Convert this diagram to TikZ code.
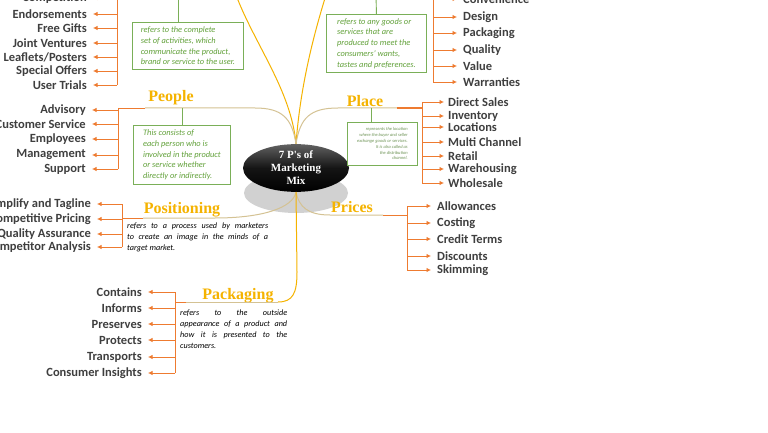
\documentclass[tikz,border=0pt]{standalone}
\usepackage{fontspec}
\setmainfont{Carlito}
\newfontfamily\headfont{Liberation Serif}
\usetikzlibrary{arrows.meta,shapes.geometric}

\definecolor{mixGold}{HTML}{F5B300}
\definecolor{mixOrange}{HTML}{EE7B30}
\definecolor{mixGreen}{HTML}{62A13A}
\definecolor{mixTan}{HTML}{D4C293}
\definecolor{mixGrey}{HTML}{3F3F3F}

\begin{document}
\begin{tikzpicture}
[x=1pt,y=-1pt,
  itemDecorate/.style={inner sep=0pt,text=mixGrey,font=\bfseries\fontsize{12.5}{14}\selectfont},
  headDecorate/.style={inner sep=0pt,text=mixGold,font=\headfont\bfseries\fontsize{16}{18}\selectfont},
  boxDecorate/.style={draw=mixGreen!85,line width=0.9pt,fill=white,inner sep=0pt,anchor=north west,
    text=mixGreen,align=left,font=\itshape\fontsize{8.4}{10.7}\selectfont},
  noteDecorate/.style={inner sep=0pt,anchor=north west,align=justify,font=\itshape\fontsize{8.2}{10.9}\selectfont},
  centerDecorate/.style={ellipse,top color=black!62,bottom color=black,middle color=black!92,
    minimum width=106pt,minimum height=46pt,inner sep=0pt,text=white,align=center,
    font=\headfont\bfseries\fontsize{11}{13}\selectfont},
  arrowDecorate/.style={mixOrange,line width=0.8pt,shorten >=6pt,-{Latex[length=4.5pt,width=4.5pt]}},
  bracketDecorate/.style={mixOrange,line width=0.8pt},
  goldDecorate/.style={mixGold,line width=1pt},
  tanDecorate/.style={mixTan,line width=1pt},
  stemDecorate/.style={mixGreen!85,line width=0.9pt}]
\useasboundingbox (0,0) rectangle (768,433);
\fill[white] (0,0) rectangle (768,433);
\clip (0,0) rectangle (768,433);

%% centre
\fill[black!18] (296,193) ellipse (52 and 20);
\node[centerDecorate] (mix) at (296,168) {7 P's of\\Marketing\\Mix};

%% promotion (top left)
\coordinate (promoTop) at (117,-10);
\foreach \i/\y/\txt in {1/-2/Competition, 2/14/Endorsements, 3/28/Free Gifts, 4/43/Joint Ventures,
  5/57/{Leaflets/Posters}, 6/71/Special Offers, 7/85/User Trials}
{
  \coordinate (promoTick\i) at (117,\y);
  \node[itemDecorate,anchor=east] (promoItem\i) at (87,\y) {\txt};
  \draw[arrowDecorate] (promoTick\i) -- (promoItem\i);
}
\draw[bracketDecorate] (promoTop) -- (promoTick7);
\node[boxDecorate,minimum width=111pt,minimum height=47pt] (promoDesc) at (132,22)
  {refers to the complete\\set of activities, which\\communicate the product,\\brand or service to the user.};
\coordinate (promoStem) at (178,-5);
\draw[stemDecorate] (promoStem) -- (promoStem |- promoDesc.north);
\coordinate (promoEnd) at (236,-5);
\draw[goldDecorate] (mix.north) .. controls (291,90) and (255,45) .. (promoEnd);

%% product (top right)
\coordinate (prodTop) at (433,-10);
\foreach \i/\y/\txt in {1/-1/Convenience, 2/17/Design, 3/33/Packaging, 4/50/Quality, 5/66/Value, 6/82/Warranties}
{
  \coordinate (prodTick\i) at (433,\y);
  \node[itemDecorate,anchor=west] (prodItem\i) at (463,\y) {\txt};
  \draw[arrowDecorate] (prodTick\i) -- (prodItem\i);
}
\draw[bracketDecorate] (prodTop) -- (prodTick6);
\node[boxDecorate,minimum width=100pt,minimum height=58pt] (prodDesc) at (326,14)
  {refers to any goods or\\services that are\\produced to meet the\\consumers' wants,\\tastes and preferences.};
\coordinate (prodStem) at (376,-5);
\draw[stemDecorate] (prodStem) -- (prodDesc.north);
\coordinate (prodEnd) at (326,-5);
\draw[goldDecorate] (mix.north) .. controls (300,90) and (312,40) .. (prodEnd);

%% people
\node[headDecorate] (peopleHead) at (171,98) {People};
\coordinate (peBr) at (118,108);
\coordinate (peJoin) at (145,108);
\draw[tanDecorate] (mix.north) .. controls (292,118) and (282,108) .. (255,108) -- (peJoin);
\draw[bracketDecorate] (peJoin) -- (peBr);
\foreach \i/\y/\txt in {1/110/Advisory, 2/124/Customer Service, 3/139/Employees, 4/155/Management, 5/169/Support}
{
  \coordinate (peTick\i) at (118,\y);
  \node[itemDecorate,anchor=east] (peItem\i) at (86,\y) {\txt};
  \draw[arrowDecorate] (peTick\i) -- (peItem\i);
}
\draw[bracketDecorate] (peBr) -- (peTick5);
\node[boxDecorate,minimum width=97pt,minimum height=59pt] (peopleDesc) at (133,125)
  {This consists of\\each person who is\\involved in the product\\or service whether\\directly or indirectly.};
\draw[stemDecorate] (peopleDesc.north) -- (peopleDesc.north |- peBr);

%% place
\node[headDecorate] (placeHead) at (365,101) {Place};
\coordinate (plJoin) at (397,108);
\coordinate (plBr) at (422,108);
\draw[tanDecorate] (mix.north) .. controls (300,118) and (310,108) .. (338,108) -- (plJoin);
\draw[bracketDecorate,line width=1.6pt] (plJoin) -- (plBr);
\foreach \i/\y/\txt in {1/102/Direct Sales, 2/116/Inventory, 3/127/Locations, 4/142/Multi Channel,
  5/156/Retail, 6/169/Warehousing, 7/183/Wholesale}
{
  \coordinate (plTick\i) at (422,\y);
  \node[itemDecorate,anchor=west] (plItem\i) at (448,\y) {\txt};
  \draw[arrowDecorate,shorten >=4pt] (plTick\i) -- (plItem\i);
}
\draw[bracketDecorate] (plTick1) -- (plTick7);
\node[boxDecorate,minimum width=70pt,minimum height=43pt,align=right,text=mixGreen!60!gray,
  font=\itshape\fontsize{4.5}{5.8}\selectfont] (placeDesc) at (347,122)
  {represents the location\\where the buyer and seller\\exchange goods or services.\\It is also called as\\the distribution\\channel.};
\coordinate (plStem) at (371,108);
\draw[stemDecorate] (plStem) -- (plStem |- placeDesc.north);

%% positioning
\node[headDecorate] (posHead) at (182,210) {Positioning};
\coordinate (posJoin) at (143,218);
\coordinate (posBr) at (122,218);
\draw[tanDecorate] (mix.south) .. controls (293,208) and (262,218) .. (215,218) -- (posJoin);
\draw[bracketDecorate] (posJoin) -- (posBr);
\foreach \i/\y/\txt in {1/204/Simplify and Tagline, 2/219/Competitive Pricing, 3/234/Quality Assurance, 4/247/Competitor Analysis}
{
  \coordinate (posTick\i) at (122,\y);
  \node[itemDecorate,anchor=east] (posItem\i) at (91,\y) {\txt};
  \draw[arrowDecorate] (posTick\i) -- (posItem\i);
}
\draw[bracketDecorate] (posTick1) -- (posTick4);
\node[noteDecorate,text width=141pt] (posNote) at (127,222.5)
  {refers to a process used by marketers\linebreak to create an image in the minds of a\linebreak target market.};

%% prices
\node[headDecorate] (prcHead) at (352,207) {Prices};
\coordinate (prcJoin) at (383,215);
\coordinate (prcBr) at (407,215);
\draw[tanDecorate] (mix.south) .. controls (299,207) and (308,215) .. (330,215) -- (prcJoin);
\draw[bracketDecorate] (prcJoin) -- (prcBr);
\foreach \i/\y/\txt in {1/206/Allowances, 2/223/Costing, 3/239/Credit Terms, 4/256/Discounts, 5/270/Skimming}
{
  \coordinate (prcTick\i) at (407,\y);
  \node[itemDecorate,anchor=west] (prcItem\i) at (437,\y) {\txt};
  \draw[arrowDecorate] (prcTick\i) -- (prcItem\i);
}
\draw[bracketDecorate] (prcTick1) -- (prcTick5);

%% packaging
\node[headDecorate] (packHead) at (238,296) {Packaging};
\coordinate (pkBend) at (278,302);
\coordinate (pkJoin) at (186,302);
\coordinate (pkBr) at (175,302);
\draw[goldDecorate] (mix.south) -- (297,272) .. controls (297,293) and (293,302) .. (pkBend);
\draw[tanDecorate] (pkBend) -- (pkJoin);
\draw[bracketDecorate] (pkJoin) -- (pkBr);
\foreach \i/\y/\txt in {1/292/Contains, 2/308/Informs, 3/324/Preserves, 4/340/Protects, 5/357/Transports, 6/373/Consumer Insights}
{
  \coordinate (pkTick\i) at (175,\y);
  \node[itemDecorate,anchor=east] (pkItem\i) at (142,\y) {\txt};
  \draw[arrowDecorate] (pkTick\i) -- (pkItem\i);
}
\draw[bracketDecorate] (pkTick1) -- (pkTick6);
\node[noteDecorate,text width=107pt] (pkNote) at (180,310)
  {refers to the outside\linebreak appearance of a product and\linebreak how it is presented to the\linebreak customers.};
\end{tikzpicture}
\end{document}
